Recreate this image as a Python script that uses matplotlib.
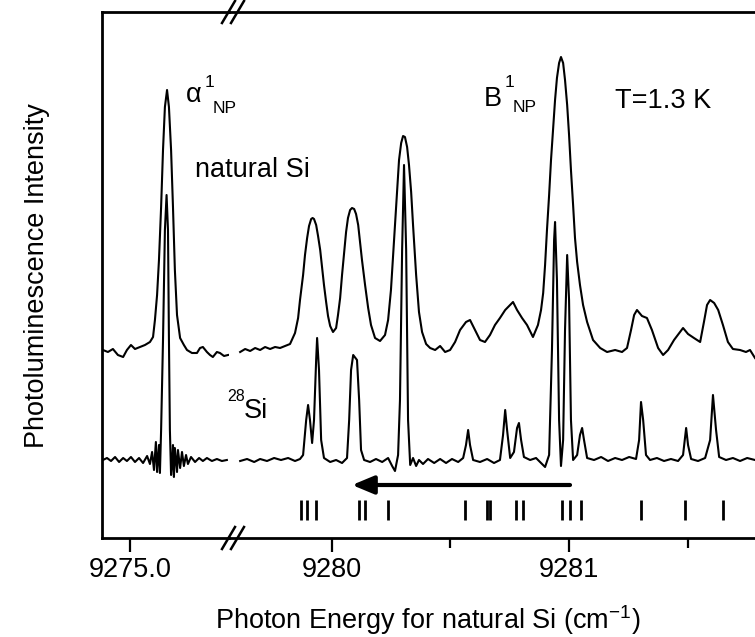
import matplotlib
matplotlib.use('Agg')
import matplotlib.pyplot as plt
import numpy as np

plt.rcParams['font.family'] = ['Liberation Sans', 'DejaVu Sans']
plt.rcParams['mathtext.fontset'] = 'custom'
plt.rcParams['mathtext.rm'] = 'Liberation Sans'

# ---- data (energies in cm^-1, intensity in arb. units) ----
# natural Si, left part (alpha line)
nat_left_e = [9274.886, 9274.907, 9274.928, 9274.949, 9274.971, 9274.987, 9275.004, 9275.021,
              9275.042, 9275.063, 9275.084, 9275.097, 9275.105, 9275.114, 9275.122, 9275.131,
              9275.139, 9275.147, 9275.156, 9275.164, 9275.173, 9275.181, 9275.189, 9275.198,
              9275.211, 9275.227, 9275.240, 9275.261, 9275.282, 9275.295, 9275.307, 9275.324,
              9275.337, 9275.349, 9275.366, 9275.379, 9275.396, 9275.413]
nat_left_i = [0, -2, 1, -5, -7, 0, 5, 1,
              3, 5, 8, 13, 30, 55, 90, 143,
              200, 243, 260, 243, 200, 143, 80, 35,
              12, 5, 0, -3, -3, 2, 3, -2,
              -5, -7, -2, -3, -6, -5]

# 28Si, left part
si28_left_e = [9274.886, 9274.903, 9274.920, 9274.937, 9274.954, 9274.971, 9274.987, 9275.004,
               9275.021, 9275.038, 9275.055, 9275.072, 9275.084, 9275.093, 9275.101, 9275.109,
               9275.114, 9275.122, 9275.126, 9275.131, 9275.139, 9275.147, 9275.154, 9275.160,
               9275.164, 9275.168, 9275.173, 9275.177, 9275.181, 9275.185, 9275.189, 9275.198,
               9275.202, 9275.211, 9275.219, 9275.227, 9275.236, 9275.244, 9275.257, 9275.274,
               9275.291, 9275.307, 9275.324, 9275.345, 9275.366, 9275.387, 9275.408]
si28_left_i = [0, 2, -1, 3, -2, 2, -1, 3,
               -2, 2, -3, 4, -4, 8, -10, 18,
               -12, 15, -13, 30, 120, 230, 265, 230,
               120, 30, -15, -5, 15, -17, 12, -12,
               10, -8, 8, -6, 5, -4, 3, -2,
               2, -1, 2, -1, 1, -1, 0]

# natural Si, right part
nat_right_e = [9279.615, 9279.636, 9279.657, 9279.678, 9279.699, 9279.720, 9279.741, 9279.762,
               9279.783, 9279.804, 9279.825, 9279.846, 9279.859, 9279.867, 9279.880, 9279.888,
               9279.897, 9279.905, 9279.914, 9279.920, 9279.926, 9279.935, 9279.943, 9279.952,
               9279.960, 9279.968, 9279.977, 9279.985, 9279.994, 9280.006, 9280.019, 9280.027,
               9280.036, 9280.044, 9280.053, 9280.061, 9280.069, 9280.078, 9280.086, 9280.095,
               9280.103, 9280.112, 9280.120, 9280.128, 9280.141, 9280.154, 9280.166, 9280.183,
               9280.204, 9280.225, 9280.238, 9280.250, 9280.263, 9280.276, 9280.284, 9280.293,
               9280.301, 9280.309, 9280.318, 9280.326, 9280.335, 9280.343, 9280.356, 9280.368,
               9280.381, 9280.398, 9280.415, 9280.436, 9280.457, 9280.478,
               9280.499, 9280.520, 9280.541, 9280.566, 9280.583, 9280.604, 9280.625, 9280.646,
               9280.667, 9280.688, 9280.709, 9280.731, 9280.752, 9280.764, 9280.781, 9280.802,
               9280.823, 9280.848, 9280.869, 9280.882, 9280.891, 9280.899, 9280.907, 9280.916,
               9280.924, 9280.933, 9280.941, 9280.949, 9280.958, 9280.966, 9280.975, 9280.983,
               9280.992, 9281.000, 9281.008, 9281.017, 9281.025, 9281.034, 9281.046, 9281.059,
               9281.076, 9281.101,
               9281.131, 9281.160, 9281.194, 9281.223, 9281.244, 9281.261, 9281.274, 9281.286,
               9281.307, 9281.328, 9281.349, 9281.375, 9281.396, 9281.417, 9281.442, 9281.467,
               9281.480, 9281.501, 9281.526, 9281.552, 9281.568, 9281.581, 9281.594, 9281.611,
               9281.628, 9281.648, 9281.669, 9281.690, 9281.720, 9281.745, 9281.762, 9281.783]
nat_right_i = [-2, 1, -1, 2, 0, 3, 1, 3,
               2, 4, 6, 17, 32, 50, 75, 95,
               112, 124, 131, 132, 131, 125, 114, 100,
               83, 65, 48, 34, 24, 18, 22, 35,
               52, 75, 98, 118, 132, 140, 142, 141,
               136, 125, 108, 90, 65, 42, 25, 12,
               9, 15, 30, 60, 110, 160, 190, 207,
               214, 213, 203, 185, 158, 125, 75, 38,
               18, 6, 2, 0, 4, -2,
               0, 8, 20, 28, 30, 20, 10, 8,
               15, 25, 32, 40, 45, 48, 40, 32,
               25, 13, 25, 40, 57, 85, 120, 155,
               190, 222, 250, 272, 287, 293, 287, 270,
               245, 215, 180, 145, 112, 88, 65, 45,
               28, 10,
               2, -2, 0, -2, 2, 20, 35, 40,
               34, 32, 20, 2, -5, 0, 10, 18,
               22, 16, 12, 8, 28, 45, 50, 47,
               40, 25, 8, 1, 0, -2, 0, -8]

# 28Si, right part
si28_right_e = [9279.615, 9279.644, 9279.674, 9279.699, 9279.728, 9279.758, 9279.787, 9279.817,
                9279.846, 9279.867, 9279.880, 9279.893, 9279.901, 9279.909, 9279.918, 9279.926,
                9279.935, 9279.939, 9279.947, 9279.956, 9279.968, 9279.994, 9280.019, 9280.044,
                9280.065, 9280.074, 9280.082, 9280.091, 9280.107, 9280.116, 9280.124, 9280.137,
                9280.162, 9280.187, 9280.213, 9280.238, 9280.255, 9280.267, 9280.280, 9280.288,
                9280.297, 9280.305, 9280.314, 9280.322, 9280.331, 9280.343, 9280.356, 9280.368,
                9280.385, 9280.406, 9280.432, 9280.457, 9280.482, 9280.507, 9280.533, 9280.554,
                9280.566, 9280.575, 9280.583, 9280.596, 9280.625, 9280.655, 9280.684, 9280.709,
                9280.722, 9280.731, 9280.739, 9280.752, 9280.768, 9280.781, 9280.789, 9280.798,
                9280.810, 9280.836, 9280.861, 9280.882, 9280.899, 9280.916, 9280.928, 9280.937,
                9280.941, 9280.949, 9280.958, 9280.966, 9280.975, 9280.983, 9280.992, 9281.000,
                9281.008, 9281.017, 9281.034, 9281.046, 9281.055, 9281.063, 9281.076, 9281.105,
                9281.135, 9281.164, 9281.194, 9281.223, 9281.253, 9281.282, 9281.295, 9281.303,
                9281.312, 9281.324, 9281.341, 9281.370, 9281.400, 9281.429, 9281.459, 9281.480,
                9281.493, 9281.501, 9281.514, 9281.543, 9281.573, 9281.594, 9281.606, 9281.619,
                9281.632, 9281.661, 9281.690, 9281.720, 9281.750, 9281.783]
si28_right_i = [-1, 1, -2, 1, -1, 2, 0, 2,
                -1, 1, 5, 40, 55, 40, 17, 40,
                100, 122, 90, 20, 2, -2, 0, -3,
                2, 40, 90, 105, 100, 60, 10, 0,
                -2, 1, -2, 2, -6, -11, 5, 60,
                210, 295, 210, 40, -5, 2, -6, 0,
                -4, 1, -3, 1, -3, 1, -2, 2,
                15, 30, 15, 0, -2, 1, -3, 0,
                25, 50, 30, 2, 8, 32, 37, 20,
                3, 0, 2, -3, -7, 5, 110, 220,
                238, 180, 40, -6, 20, 130, 205, 160,
                40, 0, 5, 25, 32, 20, 2, 0,
                3, -1, 2, 0, 3, 1, 20, 58,
                40, 5, 0, 2, -1, 1, -1, 5,
                32, 15, 1, -1, 2, 20, 65, 30,
                3, 0, 2, -1, 2, 0]

# calculated line positions (stick marks)
stick_e = [9279.872, 9279.896, 9279.935, 9280.116, 9280.141, 9280.238, 9280.562, 9280.655,
           9280.667, 9280.777, 9280.806, 9280.971, 9281.004, 9281.050, 9281.303, 9281.488,
           9281.648]

# isotope shift arrow (from -> to)
arrow_e = [9281.004, 9280.086]

# ---- figure ----
W, H = 755, 637
fig = plt.figure(figsize=(W / 100, H / 100), dpi=100)


def fx(x):
    return x / W


def fy(y):
    return 1 - y / H


ax_l = fig.add_axes([fx(102), fy(538), (229 - 102) / W, 526 / H])
ax_r = fig.add_axes([fx(229), fy(538), (W - 229) / W, 526 / H])

nat_off = 188
si28_off = 78

for ax in (ax_l, ax_r):
    ax.set_ylim(0, 526)
    ax.set_yticks([])
    for s in ax.spines.values():
        s.set_linewidth(2)
    ax.tick_params(axis='x', which='major', direction='out', length=10, width=1.6,
                   labelsize=19.5, pad=4)
    ax.tick_params(axis='x', which='minor', direction='out', length=7, width=1.6)
    ax.patch.set_alpha(0)

ax_l.spines['right'].set_visible(False)
ax_r.spines['left'].set_visible(False)
ax_r.spines['right'].set_visible(False)

ax_l.set_xlim(9274.882, 9275.417)
ax_r.set_xlim(9279.568, 9281.783)

ax_l.set_xticks([9275.0])
ax_l.set_xticklabels(['9275.0'])
ax_r.set_xticks([9280, 9281])
ax_r.set_xticklabels(['9280', '9281'])
ax_r.set_xticks([9280.5, 9281.5], minor=True)

lw = 1.5
for ax, e, i, off in ((ax_l, nat_left_e, nat_left_i, nat_off),
                      (ax_l, si28_left_e, si28_left_i, si28_off),
                      (ax_r, nat_right_e, nat_right_i, nat_off),
                      (ax_r, si28_right_e, si28_right_i, si28_off)):
    ax.plot(e, np.array(i) + off, color='black', lw=lw, solid_joinstyle='round')

ax_r.vlines(stick_e, 18, 38, color='black', lw=2)

ax_r.annotate('', xy=(arrow_e[1], 53), xytext=(arrow_e[0], 53),
              arrowprops=dict(arrowstyle='-|>,head_length=0.6,head_width=0.25',
                              lw=3, color='black', mutation_scale=22,
                              shrinkA=0, shrinkB=0))

# break marks on top and bottom spines
for y0 in (538, 12):
    for x0 in (222, 231):
        fig.add_artist(plt.Line2D([fx(x0), fx(x0 + 13)], [fy(y0 + 11), fy(y0 - 11)],
                                  color='black', lw=1.8))

# labels
big = 19.5
small = 12.5
fig.text(fx(186), fy(102), '\u03b1', fontsize=big, ha='left', va='baseline')
fig.text(fx(205), fy(87), '1', fontsize=small, ha='left', va='baseline')
fig.text(fx(213), fy(113), 'NP', fontsize=small, ha='left', va='baseline')
fig.text(fx(195), fy(177), 'natural Si', fontsize=big, ha='left', va='baseline')
fig.text(fx(484), fy(106), 'B', fontsize=big, ha='left', va='baseline')
fig.text(fx(505), fy(87), '1', fontsize=small, ha='left', va='baseline')
fig.text(fx(513), fy(112), 'NP', fontsize=small, ha='left', va='baseline')
fig.text(fx(615), fy(108), 'T=1.3 K', fontsize=big, ha='left', va='baseline')
fig.text(fx(227), fy(401), '28', fontsize=11.5, ha='left', va='baseline')
fig.text(fx(244), fy(418), 'Si', fontsize=big, ha='left', va='baseline')

fig.text(fx(37), fy(276), 'Photoluminescence Intensity', fontsize=big, rotation=90,
         ha='center', va='center')
fig.text(fx(428), fy(629), 'Photon Energy for natural Si (cm$^{\\mathrm{-1}}$)', fontsize=big,
         ha='center', va='baseline')

fig.savefig('out.png', dpi=100)
